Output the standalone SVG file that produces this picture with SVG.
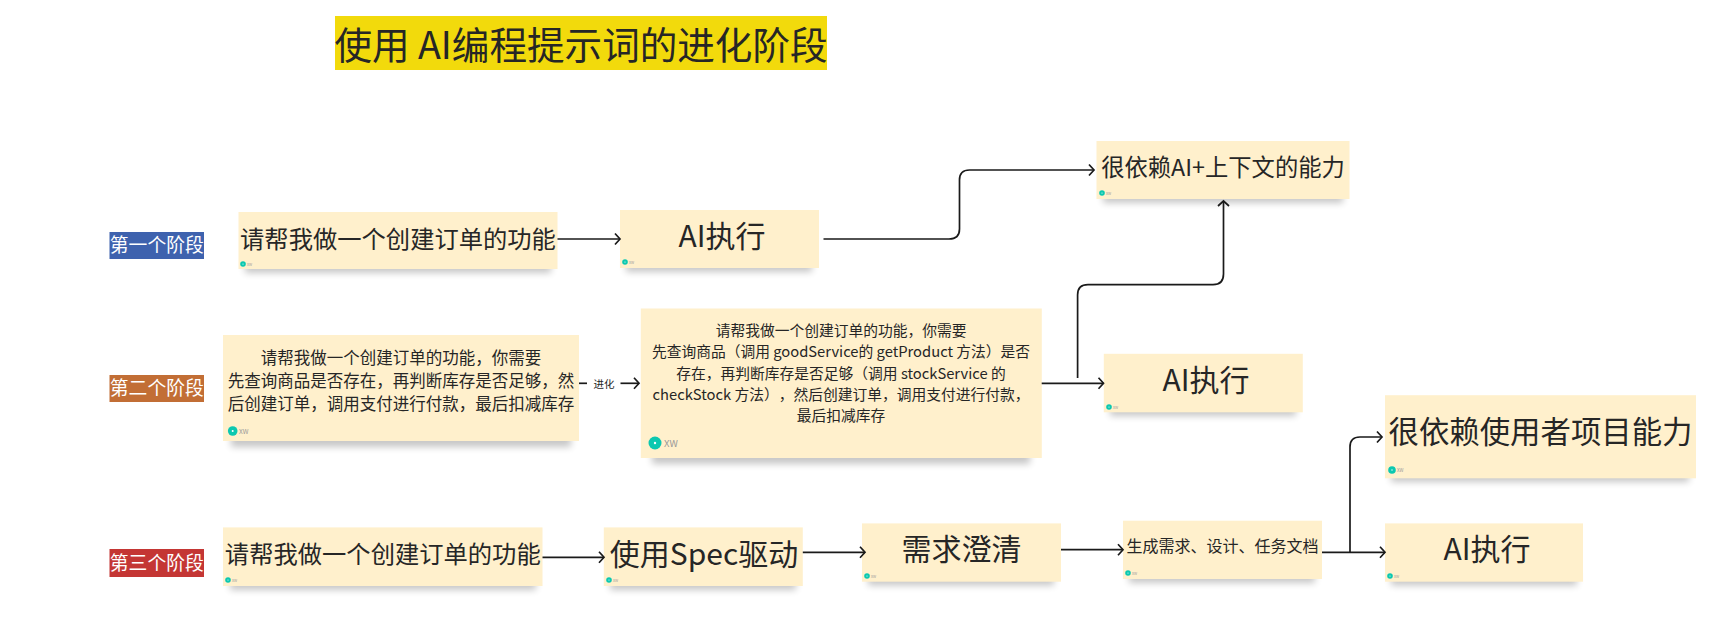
<svg xmlns="http://www.w3.org/2000/svg" width="1732" height="619" viewBox="0 0 1732 619">
<style>
text{font-family:"Noto Sans CJK SC","Noto Sans",sans-serif;fill:#262626;text-anchor:middle;text-spacing-trim:space-all}
.box{fill:#FFF0CC}
.sh{fill:#000;opacity:.22;filter:url(#b)}
.stage{font-size:18.8px;fill:#fff}
.av{fill:#0CC8B0}
.dot{fill:#fff}
.u{fill:#999;text-anchor:start}
.c{fill:none;stroke:#1a1a1a;stroke-width:1.7;marker-end:url(#a)}
.l{fill:none;stroke:#1a1a1a;stroke-width:1.7}
</style>
<defs>
<filter id="b" x="-20%" y="-100%" width="140%" height="300%"><feGaussianBlur stdDeviation="3.5"/></filter>
<marker id="a" markerUnits="userSpaceOnUse" markerWidth="12" markerHeight="14" refX="8.5" refY="7" orient="auto"><path d="M3.500 1.500L8.500 7L3.500 12.500" fill="none" stroke="#1a1a1a" stroke-width="1.7"/></marker>
</defs>
<rect width="1732" height="619" fill="#fff"/>
<g id="title"><rect x="335" y="16" width="492" height="54" fill="#F2DA0C"/><text x="581" y="59" font-size="37.600">使用 AI编程提示词的进化阶段</text></g>
<g id="stage1"><rect x="109.500" y="232" width="94.500" height="27" fill="#3E62AE"/><text class="stage" x="156.800" y="252">第一个阶段</text></g>
<g id="stage2"><rect x="109.500" y="375" width="94.500" height="27" fill="#C26E35"/><text class="stage" x="156.800" y="395">第二个阶段</text></g>
<g id="stage3"><rect x="109.500" y="549" width="94.500" height="28" fill="#C43634"/><text class="stage" x="156.800" y="570">第三个阶段</text></g>

<g id="n1"><rect class="sh" x="245" y="259" width="306" height="14"/><rect class="box" x="238.500" y="212" width="319" height="57"/><text x="398" y="247.500" font-size="24.300">请帮我做一个创建订单的功能</text><circle class="av" cx="243" cy="264" r="2.800"/><circle class="dot" cx="243" cy="264" r=".6"/><text class="u" x="247" y="265.500" font-size="3.500">XW</text></g>
<g id="n2"><rect class="sh" x="626" y="258" width="186" height="14"/><rect class="box" x="620" y="210" width="199" height="58"/><text x="722" y="247" font-size="30">AI执行</text><circle class="av" cx="625" cy="262" r="2.800"/><circle class="dot" cx="625" cy="262" r=".6"/><text class="u" x="629" y="263.500" font-size="3.500">XW</text></g>
<g id="n3"><rect class="sh" x="1103" y="189" width="240" height="14"/><rect class="box" x="1096.500" y="141" width="253" height="58"/><text x="1223" y="176" font-size="23.300">很依赖AI+上下文的能力</text><circle class="av" cx="1102" cy="193" r="2.800"/><circle class="dot" cx="1102" cy="193" r=".6"/><text class="u" x="1106" y="194.500" font-size="3.500">XW</text></g>

<g id="n4"><rect class="sh" x="231" y="431" width="340" height="16"/><rect class="box" x="223" y="335" width="356" height="106"/><g font-size="16.500"><text x="401" y="363.500">请帮我做一个创建订单的功能，你需要</text><text x="401" y="387">先查询商品是否存在，再判断库存是否足够，然</text><text x="401" y="409.500">后创建订单，调用支付进行付款，最后扣减库存</text></g><circle class="av" cx="232.700" cy="431" r="4.800"/><circle class="dot" cx="232.700" cy="431" r="1"/><text class="u" x="239" y="433.500" font-size="6.500">XW</text></g>
<g id="n5"><rect class="sh" x="652" y="446" width="378" height="18"/><rect class="box" x="640.800" y="308.500" width="401" height="149.500"/><g font-size="14.750"><text x="841" y="336">请帮我做一个创建订单的功能，你需要</text><text x="841" y="357">先查询商品（调用 goodService的 getProduct 方法）是否</text><text x="841" y="378.500">存在，再判断库存是否足够（调用 stockService 的</text><text x="841" y="399.500">checkStock 方法），然后创建订单，调用支付进行付款，</text><text x="841" y="420.500">最后扣减库存</text></g><circle class="av" cx="655" cy="443" r="6.500"/><circle class="dot" cx="655" cy="443" r="1.200"/><text class="u" x="664" y="446.500" font-size="9.500">XW</text></g>
<g id="n6"><rect class="sh" x="1110" y="402" width="186" height="14"/><rect class="box" x="1103.800" y="353.800" width="199" height="58.500"/><text x="1206" y="391" font-size="30">AI执行</text><circle class="av" cx="1109" cy="407" r="2.800"/><circle class="dot" cx="1109" cy="407" r=".6"/><text class="u" x="1113" y="408.500" font-size="3.500">XW</text></g>

<g id="n7"><rect class="sh" x="230" y="576" width="306" height="14"/><rect class="box" x="223" y="527.400" width="319.500" height="58.600"/><text x="382.800" y="563" font-size="24.300">请帮我做一个创建订单的功能</text><circle class="av" cx="228" cy="580" r="2.800"/><circle class="dot" cx="228" cy="580" r=".6"/><text class="u" x="232" y="581.500" font-size="3.500">XW</text></g>
<g id="n8"><rect class="sh" x="610" y="576" width="186" height="14"/><rect class="box" x="603.800" y="527.400" width="199" height="58.600"/><text x="704" y="565" font-size="30">使用Spec驱动</text><circle class="av" cx="609" cy="580" r="2.800"/><circle class="dot" cx="609" cy="580" r=".6"/><text class="u" x="613" y="581.500" font-size="3.500">XW</text></g>
<g id="n9"><rect class="sh" x="868" y="571.500" width="186" height="14"/><rect class="box" x="862" y="523.400" width="199" height="58.300"/><text x="961.500" y="560" font-size="30">需求澄清</text><circle class="av" cx="867" cy="576" r="2.800"/><circle class="dot" cx="867" cy="576" r=".6"/><text class="u" x="871" y="577.500" font-size="3.500">XW</text></g>
<g id="n10"><rect class="sh" x="1129" y="569" width="186" height="14"/><rect class="box" x="1123" y="520.700" width="199" height="58.300"/><text x="1222.500" y="552" font-size="16">生成需求、设计、任务文档</text><circle class="av" cx="1128" cy="573" r="2.800"/><circle class="dot" cx="1128" cy="573" r=".6"/><text class="u" x="1132" y="574.500" font-size="3.500">XW</text></g>
<g id="n11"><rect class="sh" x="1391" y="468" width="298" height="14"/><rect class="box" x="1385" y="395.200" width="311" height="83.100"/><text x="1540.500" y="442.500" font-size="30.400">很依赖使用者项目能力</text><circle class="av" cx="1392" cy="470" r="3.800"/><circle class="dot" cx="1392" cy="470" r=".7"/><text class="u" x="1397" y="472" font-size="4.500">XW</text></g>
<g id="n12"><rect class="sh" x="1391" y="571.500" width="186" height="14"/><rect class="box" x="1385" y="523.400" width="198" height="58.300"/><text x="1487" y="560" font-size="30">AI执行</text><circle class="av" cx="1390" cy="576" r="2.800"/><circle class="dot" cx="1390" cy="576" r=".6"/><text class="u" x="1394" y="577.500" font-size="3.500">XW</text></g>

<g id="connectors">
<path class="c" d="M557.500 239H620"/>
<path class="c" d="M823.500 239H949Q959.500 239 959.500 229V180Q959.500 170 969.500 170H1094"/>
<path class="l" d="M579 383.300H587"/>
<text x="604" y="388" font-size="10.500">进化</text>
<path class="c" d="M620.500 383.300H639"/>
<path class="c" d="M1041.700 383.300H1103.500"/>
<path class="c" d="M1077.600 378V295Q1077.600 284.700 1088 284.700H1213Q1223.500 284.700 1223.500 274V201"/>
<path class="c" d="M542.500 557.300H604"/>
<path class="c" d="M802.800 552.300H865"/>
<path class="c" d="M1061 549.700H1123"/>
<path class="c" d="M1322 552.300H1385"/>
<path class="c" d="M1350 552.300V447Q1350 437 1360 437H1382"/>
</g>
</svg>
